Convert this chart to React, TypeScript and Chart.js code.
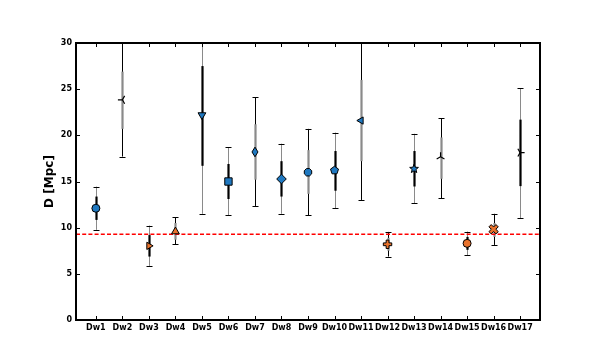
import React, { useEffect, useRef } from "react";
import { Chart, registerables } from "chart.js";

Chart.register(...registerables);

// ---- data ----
const categories = ["Dw1","Dw2","Dw3","Dw4","Dw5","Dw6","Dw7","Dw8","Dw9","Dw10","Dw11","Dw12","Dw13","Dw14","Dw15","Dw16","Dw17"];
const distance = [12.1, 23.85, 8.03, 9.58, 22.2, 15.0, 18.2, 15.27, 16.0, 16.2, 21.6, 8.2, 16.37, 17.67, 8.3, 9.83, 18.13];
const outerLow = [9.76, 17.7, 5.86, 8.2, 11.5, 11.35, 12.35, 11.5, 11.35, 12.1, 13.0, 6.87, 12.65, 13.2, 7.0, 8.13, 11.0];
const outerHigh = [14.45, 31.5, 10.23, 11.14, 33.0, 18.7, 24.1, 19.1, 20.7, 20.3, 31.0, 9.54, 20.17, 21.87, 9.58, 11.5, 25.1];
const innerLow = [10.84, 20.7, 6.87, 8.7, 16.7, 13.1, 15.2, 13.37, 13.66, 14.0, 17.2, 7.5, 14.46, 15.29, 7.6, 9.0, 14.5];
const innerHigh = [13.37, 26.9, 9.2, 10.5, 27.5, 16.9, 21.2, 17.2, 18.4, 18.3, 26.0, 8.9, 18.3, 19.77, 9.0, 10.5, 21.7];
const referenceD = 9.3;
const yTicks = [0, 5, 10, 15, 20, 25, 30];

// ---- styles ----
const BLUE = "#1f78c0";
const ORANGE = "#e8722c";
const GRAY = "#8a8a8a";
const thinIsGray = [true, false, true, false, true, true, false, true, false, true, false, false, true, false, true, false, true];
const markerKinds = ["circle","tri_left","triangle_r","triangle_u","triangle_d","rect","thin_diamond","rectRot","octagon","pentagon","triangle_l","plus","star","tri_up","circle","xfilled","tri_right"];
const markerColors = [BLUE, "#000", ORANGE, ORANGE, BLUE, BLUE, BLUE, BLUE, BLUE, BLUE, BLUE, ORANGE, BLUE, "#000", ORANGE, ORANGE, "#000"];

const builtin: Record<string, { style: string; rotation: number; radius: number }> = {
  circle: { style: "circle", rotation: 0, radius: 4 },
  triangle_u: { style: "triangle", rotation: 0, radius: 4.5 },
  triangle_r: { style: "triangle", rotation: 90, radius: 4.2 },
  triangle_d: { style: "triangle", rotation: 180, radius: 4.5 },
  triangle_l: { style: "triangle", rotation: 270, radius: 4.2 },
  rect: { style: "rect", rotation: 0, radius: 5.2 },
  rectRot: { style: "rectRot", rotation: 0, radius: 4.8 },
};

function regular(n: number, r: number, start: number): [number, number][] {
  const pts: [number, number][] = [];
  for (let i = 0; i < n; i++) {
    const a = start + (i * 2 * Math.PI) / n;
    pts.push([r * Math.cos(a), r * Math.sin(a)]);
  }
  return pts;
}

function plusPts(L: number, a: number, rot: number): [number, number][] {
  const base: [number, number][] = [[-a,-L],[a,-L],[a,-a],[L,-a],[L,a],[a,a],[a,L],[-a,L],[-a,a],[-L,a],[-L,-a],[-a,-a]];
  const c = Math.cos(rot), s = Math.sin(rot);
  return base.map(([x, y]) => [x * c - y * s, x * s + y * c]);
}

function customShape(kind: string): { poly?: [number, number][]; triAngle?: number } | null {
  switch (kind) {
    case "thin_diamond": return { poly: [[0,-4.8],[3,0],[0,4.8],[-3,0]] };
    case "octagon": return { poly: regular(8, 4, Math.PI / 8) };
    case "pentagon": return { poly: regular(5, 4.2, -Math.PI / 2) };
    case "star": {
      const pts: [number, number][] = [];
      for (let i = 0; i < 10; i++) {
        const r = i % 2 ? 2 : 4.6;
        const a = -Math.PI / 2 + (i * Math.PI) / 5;
        pts.push([r * Math.cos(a), r * Math.sin(a)]);
      }
      return { poly: pts };
    }
    case "plus": return { poly: plusPts(4.2, 1.4, 0) };
    case "xfilled": return { poly: plusPts(5, 1.6, Math.PI / 4) };
    case "tri_left": return { triAngle: 180 };
    case "tri_right": return { triAngle: 0 };
    case "tri_up": return { triAngle: -90 };
    default: return null;
  }
}

const errorBarPlugin = {
  id: "errorBars",
  beforeDatasetsDraw(chart: any) {
    const { ctx, chartArea, scales } = chart;
    const xs = scales.x, ys = scales.y;
    ctx.save();
    ctx.beginPath();
    ctx.rect(chartArea.left, chartArea.top, chartArea.right - chartArea.left, chartArea.bottom - chartArea.top);
    ctx.clip();
    categories.forEach((_, i) => {
      const x = Math.round(xs.getPixelForValue(i + 1)) + 0.5;
      const thinCol = thinIsGray[i] ? GRAY : "#000";
      const thickCol = thinIsGray[i] ? "#000" : GRAY;
      const yLo = ys.getPixelForValue(outerLow[i]);
      const yHi = ys.getPixelForValue(outerHigh[i]);
      ctx.strokeStyle = thinCol;
      ctx.lineWidth = 1;
      ctx.beginPath();
      ctx.moveTo(x, yLo);
      ctx.lineTo(x, yHi);
      ctx.stroke();
      ctx.strokeStyle = "#000";
      ctx.beginPath();
      ctx.moveTo(x - 3, Math.round(yLo) + 0.5);
      ctx.lineTo(x + 3, Math.round(yLo) + 0.5);
      ctx.moveTo(x - 3, Math.round(yHi) + 0.5);
      ctx.lineTo(x + 3, Math.round(yHi) + 0.5);
      ctx.stroke();
      ctx.strokeStyle = thickCol;
      ctx.lineWidth = 2.2;
      ctx.beginPath();
      ctx.moveTo(x, ys.getPixelForValue(innerLow[i]));
      ctx.lineTo(x, ys.getPixelForValue(innerHigh[i]));
      ctx.stroke();
    });
    ctx.restore();
  },
  afterDatasetsDraw(chart: any) {
    const { ctx } = chart;
    const meta = chart.getDatasetMeta(0);
    ctx.save();
    categories.forEach((_, i) => {
      const shape = customShape(markerKinds[i]);
      if (!shape) return;
      const el = meta.data[i];
      const x = el.x, y = el.y;
      ctx.beginPath();
      if (shape.poly) {
        shape.poly.forEach(([px, py], k) => (k ? ctx.lineTo(x + px, y + py) : ctx.moveTo(x + px, y + py)));
        ctx.closePath();
        ctx.fillStyle = markerColors[i];
        ctx.fill();
        ctx.lineWidth = 1;
        ctx.strokeStyle = "#000";
        ctx.stroke();
      } else if (shape.triAngle !== undefined) {
        for (let k = 0; k < 3; k++) {
          const a = ((shape.triAngle + k * 120) * Math.PI) / 180;
          ctx.moveTo(x, y);
          ctx.lineTo(x + 4.5 * Math.cos(a), y + 4.5 * Math.sin(a));
        }
        ctx.lineWidth = 1.2;
        ctx.strokeStyle = "#000";
        ctx.stroke();
      }
    });
    ctx.restore();
  },
  afterDraw(chart: any) {
    const { ctx, chartArea, scales } = chart;
    const { left, right, top, bottom } = chartArea;
    ctx.save();
    ctx.strokeStyle = "#000";
    ctx.lineWidth = 1;
    ctx.beginPath();
    yTicks.forEach((v) => {
      const y = Math.round(scales.y.getPixelForValue(v)) + 0.5;
      ctx.moveTo(left, y); ctx.lineTo(left + 4, y);
      ctx.moveTo(right, y); ctx.lineTo(right - 4, y);
    });
    categories.forEach((_, i) => {
      const x = Math.round(scales.x.getPixelForValue(i + 1)) + 0.5;
      ctx.moveTo(x, bottom); ctx.lineTo(x, bottom - 4);
      ctx.moveTo(x, top); ctx.lineTo(x, top + 4);
    });
    ctx.stroke();
    ctx.lineWidth = 2;
    ctx.strokeRect(left, top, right - left, bottom - top);
    ctx.restore();
  },
};

export default function App() {
  const ref = useRef<HTMLCanvasElement>(null);
  useEffect(() => {
    document.body.style.margin = "0";
    const canvas = ref.current!;
    const font = { family: "'DejaVu Sans', sans-serif", size: 8, weight: "bold" as const };
    const chart = new Chart(canvas, {
      type: "scatter",
      data: {
        datasets: [
          {
            type: "scatter",
            data: categories.map((_, i) => ({ x: i + 1, y: distance[i] })),
            pointStyle: markerKinds.map((k) => (builtin[k] ? builtin[k].style : "circle")),
            rotation: markerKinds.map((k) => (builtin[k] ? builtin[k].rotation : 0)),
            pointRadius: markerKinds.map((k) => (builtin[k] ? builtin[k].radius : 0)),
            backgroundColor: markerColors,
            borderColor: "#000",
            borderWidth: 1,
            order: 1,
          } as any,
          {
            type: "line",
            data: [{ x: 0.25, y: referenceD }, { x: 17.75, y: referenceD }],
            borderColor: "#ff0000",
            borderWidth: 1.5,
            borderDash: [4, 2.2],
            pointRadius: 0,
            order: 2,
          } as any,
        ],
      },
      options: {
        responsive: false,
        animation: false,
        layout: { padding: { top: 43, right: 60, left: 0, bottom: 0 } },
        plugins: { legend: { display: false }, tooltip: { enabled: false } },
        scales: {
          x: {
            type: "linear",
            min: 0.25,
            max: 17.75,
            grid: { display: false, drawTicks: false },
            border: { display: false },
            afterBuildTicks: (axis: any) => {
              axis.ticks = categories.map((_, i) => ({ value: i + 1 }));
            },
            afterFit: (axis: any) => { axis.height = 40; },
            ticks: {
              autoSkip: false,
              maxRotation: 0,
              padding: 3,
              color: "#000",
              font,
              callback: (v: any) => categories[Math.round(Number(v)) - 1] ?? "",
            },
          },
          y: {
            min: 0,
            max: 30,
            grid: { display: false, drawTicks: false },
            border: { display: false },
            afterBuildTicks: (axis: any) => {
              axis.ticks = yTicks.map((v) => ({ value: v }));
            },
            afterFit: (axis: any) => { axis.width = 76; },
            ticks: { padding: 4, color: "#000", font },
            title: {
              display: true,
              text: "D [Mpc]",
              color: "#000",
              font: { family: "'DejaVu Sans', sans-serif", size: 12, weight: "bold" },
              padding: { top: 43, bottom: 0 },
            },
          },
        },
      } as any,
      plugins: [errorBarPlugin],
    });
    return () => chart.destroy();
  }, []);
  return (
    <div style={{ width: 600, height: 360 }}>
      <canvas ref={ref} width={600} height={360} style={{ display: "block", width: 600, height: 360 }} />
    </div>
  );
}
